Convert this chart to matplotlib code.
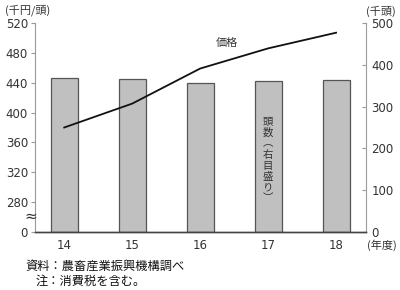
import matplotlib
matplotlib.use("Agg")
import matplotlib.pyplot as plt

plt.rcParams['font.family'] = ['Noto Sans CJK JP', 'DejaVu Sans']

years = [14, 15, 16, 17, 18]
year_labels = ["14", "15", "16", "17", "18"]
price = [380, 412, 459, 486, 507]          # 千円/頭 (left axis)
heads = [369, 365, 356, 361, 364]          # 千頭 (right axis)
left_ticks = [240, 280, 320, 360, 400, 440, 480, 520]
left_labels = ["0", "280", "320", "360", "400", "440", "480", "520"]
right_ticks = [0, 100, 200, 300, 400, 500]
right_labels = ["0", "100", "200", "300", "400", "500"]

W, H = 400, 290
fig = plt.figure(figsize=(W/100, H/100), dpi=100)
ax = fig.add_axes([35/W, (H-232)/H, (366-35)/W, (232-23)/H])
ax2 = ax.twinx()

tc = '#333333'
sc = '#9a9a9a'

# bars on right axis
ax2.bar(years, heads, width=0.4, color='#c0c0c0', edgecolor='#555555', linewidth=0.9, zorder=1)
ax2.set_ylim(0, 500)
ax.set_zorder(ax2.get_zorder() + 1)
ax.patch.set_visible(False)

ax.plot(years, price, color='#111111', linewidth=1.3, zorder=3)
ax.set_ylim(240, 520)
ax.set_xlim(13.57, 18.44)

ax.set_yticks(left_ticks)
ax.set_yticklabels(left_labels, family=['DejaVu Sans'])
ax2.set_yticks(right_ticks)
ax2.set_yticklabels(right_labels, family=['DejaVu Sans'])
ax.set_xticks(years)
ax.set_xticklabels(year_labels, family=['DejaVu Sans'])

for a in (ax, ax2):
    a.spines['top'].set_visible(False)
    a.spines['left'].set_color(sc)
    a.spines['right'].set_color(sc)
    a.spines['bottom'].set_color('#444444')
    a.spines['bottom'].set_linewidth(1.0)

ax.spines['right'].set_visible(False)
ax2.spines['left'].set_visible(False)

ax.tick_params(axis='y', direction='out', length=3, color=sc, labelsize=8.5, labelcolor=tc, pad=2)
ax2.tick_params(axis='y', direction='in', length=3, color=sc, labelsize=8.5, labelcolor=tc, pad=4)
ax.tick_params(axis='x', length=0, labelsize=8.5, labelcolor=tc, pad=5)

# break mark
fig.text(31/W, 1-216/H, "≈", fontsize=11, color=tc, ha='center', va='center',
         family=['DejaVu Sans'])

fig.text(5/W, 1-10/H, "(千円/頭)", fontsize=8, color=tc, ha='left', va='center')
fig.text(396/W, 1-11/H, "(千頭)", fontsize=8, color=tc, ha='right', va='center')
fig.text(397/W, 1-245/H, "(年度)", fontsize=8, color=tc, ha='right', va='center')
fig.text(227/W, 1-43/H, "価格", fontsize=8, color=tc, ha='center', va='center')
fig.text(268/W, 1-160/H, "頭\n数\n︵\n右\n目\n盛\nり\n︶", fontsize=7.5, color=tc,
         ha='center', va='center', linespacing=1.12)

fig.text(25/W, 1-266/H, "資料：農畜産業振興機構調べ", fontsize=8.8, color='#111111', ha='left', va='center')
fig.text(36/W, 1-281/H, "注：消費税を含む。", fontsize=8.8, color='#111111', ha='left', va='center')

fig.savefig("out.png", dpi=100)
